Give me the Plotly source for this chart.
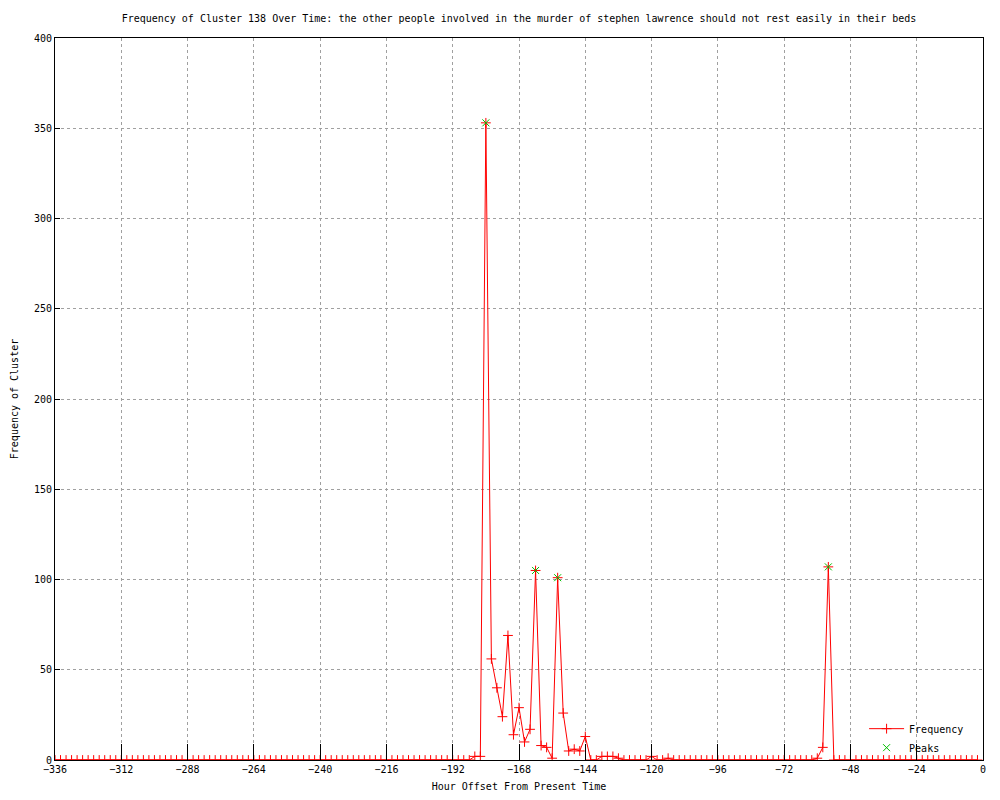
import plotly.graph_objects as go

# Hour offsets, 2-hour bins
hours = list(range(-336, 0, 2))
nonzero = {
    -184: 2, -182: 2, -180: 353, -178: 56, -176: 40, -174: 24, -172: 69,
    -170: 14, -168: 29, -166: 10, -164: 17, -162: 105, -160: 8, -158: 7,
    -156: 1, -154: 101, -152: 26, -150: 5, -148: 6, -146: 5, -144: 13,
    -138: 2, -136: 2, -134: 2, -132: 1, -120: 2, -114: 1,
    -60: 1, -58: 7, -56: 107,
}
frequency = [nonzero.get(h, 0) for h in hours]

peak_hours = [-180, -162, -154, -56]
peak_values = [353, 105, 101, 107]

x_ticks = list(range(-336, 1, 24))
y_ticks = list(range(0, 401, 50))

title_text = ("Frequency of Cluster 138 Over Time: the other people involved in the "
              "murder of stephen lawrence should not rest easily in their beds")

FONT = "DejaVu Sans Mono"
W, H = 992, 792

fig = go.Figure()
fig.add_trace(go.Scatter(
    x=hours, y=frequency, mode="lines+markers", name="Frequency",
    line=dict(color="#ff0000", width=1),
    marker=dict(symbol="cross-thin", size=7, line=dict(color="#ff0000", width=1), color="#ff0000"),
))
fig.add_trace(go.Scatter(
    x=peak_hours, y=peak_values, mode="markers", name="Peaks",
    marker=dict(symbol="x-thin", size=7, line=dict(color="#00c000", width=1), color="#00c000"),
))

fig.update_layout(
    width=W, height=H,
    margin=dict(l=47, r=17, t=30, b=40, autoexpand=False),
    paper_bgcolor="white", plot_bgcolor="white",
    font=dict(family=FONT, size=10, color="black"),
    title=dict(text=title_text, xref="paper", x=0.5, xanchor="center", y=1 - 10 / H, yanchor="middle",
               font=dict(family=FONT, size=10, color="black")),
    showlegend=True,
    legend=dict(x=0.985, y=-0.003, xanchor="right", yanchor="bottom",
                bgcolor="rgba(0,0,0,0)", font=dict(family=FONT, size=10),
                tracegroupgap=0, itemwidth=35),
)
fig.update_xaxes(
    range=[-336, 0], tickmode="array", tickvals=x_ticks, automargin=False,
    ticks="inside", ticklen=16, tickcolor="black", tickwidth=1,
    showline=True, linecolor="black", linewidth=1, mirror=True,
    showgrid=True, gridcolor="#a0a0a0", griddash="dot", gridwidth=1,
    zeroline=False,
    title=dict(text="Hour Offset From Present Time", font=dict(family=FONT, size=10), standoff=8),
    tickfont=dict(family=FONT, size=10),
)
fig.update_yaxes(
    range=[0, 400], tickmode="array", tickvals=y_ticks, automargin=False,
    ticks="inside", ticklen=5, tickcolor="black", tickwidth=1,
    showline=True, linecolor="black", linewidth=1, mirror=True,
    showgrid=True, gridcolor="#a0a0a0", griddash="dot", gridwidth=1,
    zeroline=False,
    title=dict(text="Frequency of Cluster", font=dict(family=FONT, size=10), standoff=13),
    tickfont=dict(family=FONT, size=10),
)

fig.write_html("out.html")
